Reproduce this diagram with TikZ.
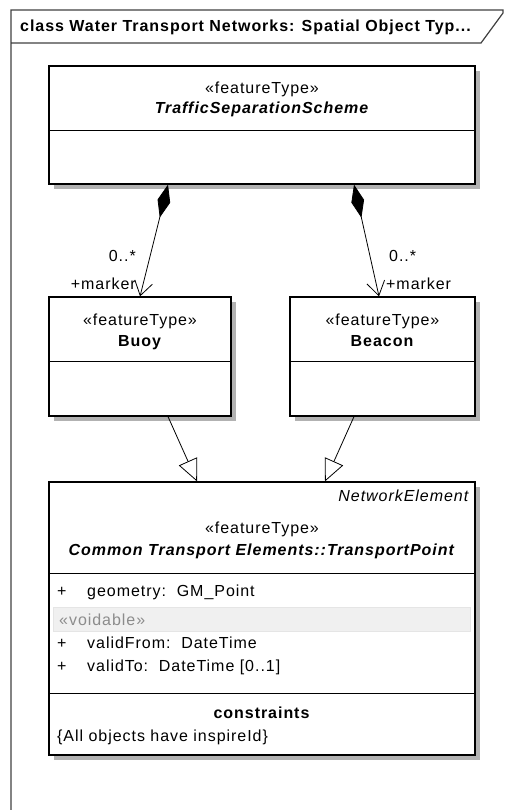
\documentclass[tikz,border=0pt]{standalone}
\usepackage{fontspec}
\setmainfont[LetterSpace=6]{Liberation Sans}
\usetikzlibrary{arrows.meta}

\begin{document}
\begin{tikzpicture}
[x=1pt,y=-1pt,
  frameLine/.style={draw=black!75,line width=1.2pt},
  classBox/.style={draw=black,line width=1.2pt,fill=white,inner sep=0pt},
  shadowBox/.style={fill=black!30,inner sep=0pt},
  compLine/.style={{Diamond[length=34pt,width=13pt]}-{Straight Barb[length=14pt,width=18pt]},line width=0.8pt},
  genLine/.style={-{Triangle[open,length=22pt,width=20pt,fill=white]},line width=0.8pt},
  umlText/.style={font=\fontsize{16}{19}\selectfont,inner sep=0pt,text height=11.5pt,text depth=3pt},
  scale=1]
\useasboundingbox (0,0) rectangle (504,810);
%% diagram frame
\draw[frameLine] (11,810) -- (11,10) -- (503,10) -- (503,13) -- (481,43) -- (11,43);
\node (title) at (20,27) [umlText,anchor=west] {\textbf{class Water Transport Networks: Spatial Object Typ...}};
%% classes
\foreach \nodename/\x/\y/\w/\h in {
  tss/262/125/426pt/118pt, buoy/140/356.5/182pt/119pt,
  beacon/382.5/356.5/185pt/119pt, point/262/618.5/426pt/273pt}
{
  \node (\nodename Shadow) at (\x+5,\y+5) [shadowBox,minimum width=\w,minimum height=\h] {};
  \node (\nodename) at (\x,\y) [classBox,minimum width=\w,minimum height=\h] {};
}
%% compartments
\foreach \nodename/\d in {tss/65pt, buoy/65pt, beacon/65pt, point/92pt, point/212pt}
{
  \draw[line width=1.2pt] ([yshift=-\d]\nodename.north west) -- ([yshift=-\d]\nodename.north east);
}
\path[fill=black!6,draw=black!10] ([xshift=5pt,yshift=-126pt]point.north west) rectangle ([xshift=-5pt,yshift=-150pt]point.north east);
%% class texts
\node (tssStereo) at (262,89) [umlText] {«featureType»};
\node (tssName) at (262,109) [umlText] {\textbf{\textit{TrafficSeparationScheme}}};
\node (buoyStereo) at (140,321) [umlText] {«featureType»};
\node (buoyName) at (140,342) [umlText] {\textbf{Buoy}};
\node (beaconStereo) at (382.5,321) [umlText] {«featureType»};
\node (beaconName) at (382.5,342) [umlText] {\textbf{Beacon}};
\node (pointTag) at (470,497) [umlText,anchor=east] {\textit{NetworkElement}};
\node (pointStereo) at (262,529) [umlText] {«featureType»};
\node (pointName) at (262,551) [umlText] {\textbf{\textit{Common Transport Elements::TransportPoint}}};
\node (voidable) at (59,621) [umlText,anchor=west,text=black!45] {«voidable»};
\foreach \nodename/\y/\attr in {
  geom/592/{geometry:\ \ GM\_Point}, from/644/{validFrom:\ \ DateTime},
  to/667/{validTo:\ \ DateTime [0..1]}}
{
  \node (\nodename Plus) at (57,\y) [umlText,anchor=west] {+};
  \node (\nodename) at (87,\y) [umlText,anchor=west] {\attr};
}
\node (constraints) at (262,714) [umlText] {\textbf{constraints}};
\node (inspireId) at (57,737) [umlText,anchor=west] {\{All objects have inspireId\}};
%% associations
\draw[compLine] ([xshift=-94pt]tss.south) -- (buoy.north);
\draw[compLine] ([xshift=92pt]tss.south) -- ([xshift=-3.5pt]beacon.north);
\node (buoyMult) at (136,257) [umlText,anchor=east] {0..*};
\node (buoyRole) at (136,285) [umlText,anchor=east] {+marker};
\node (beaconMult) at (389,257) [umlText,anchor=west] {0..*};
\node (beaconRole) at (386,285) [umlText,anchor=west] {+marker};
%% generalizations
\draw[genLine] ([xshift=28pt]buoy.south) -- ([xshift=-65pt]point.north);
\draw[genLine] ([xshift=-28.5pt]beacon.south) -- ([xshift=63pt]point.north);
\end{tikzpicture}
\end{document}
